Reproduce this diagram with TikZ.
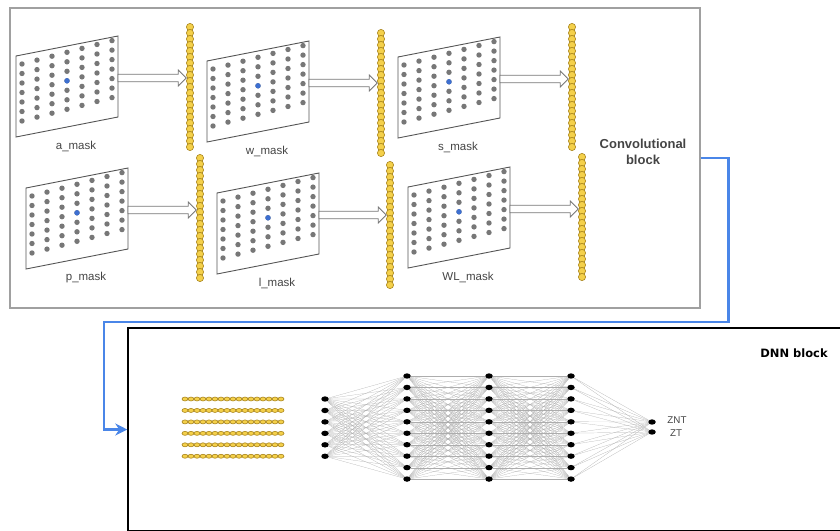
\documentclass[tikz,border=0pt]{standalone}
\usepackage{fontspec}
\setmainfont{Liberation Sans}
\newfontfamily\dnnfont{DejaVu Sans}
\usetikzlibrary{shapes.geometric,arrows.meta,calc}
\pgfdeclarelayer{background}
\pgfsetlayers{background,main}

\definecolor{panelgray}{HTML}{555555}
\definecolor{dotgray}{HTML}{777777}
\definecolor{dotblue}{HTML}{3D6FD0}
\definecolor{yfill}{HTML}{F4D04A}
\definecolor{yline}{HTML}{A8841C}
\definecolor{convgray}{HTML}{A0A0A0}
\definecolor{connblue}{HTML}{4A86E8}
\definecolor{txtgray}{HTML}{444444}
\definecolor{arrowgray}{HTML}{777777}

\tikzset{
  panel/.style={draw=panelgray, line width=0.9pt, fill=white},
  masklabel/.style={text=txtgray, font=\fontsize{11.5}{13}\selectfont, inner sep=0pt},
  harrow/.style={draw=arrowgray, fill=white, line width=0.8pt, line join=miter},
  ybead/.style={draw=yline, fill=yfill, line width=0.6pt},
  colbox/.style={rectangle, minimum width=7.2pt, minimum height=127.2pt, inner sep=0pt},
  convbox/.style={rectangle, draw=convgray, line width=1.3pt, minimum width=690pt, minimum height=300pt, inner sep=0pt},
  dnnbox/.style={rectangle, draw=black, line width=1.5pt, minimum width=732pt, minimum height=203pt, inner sep=0pt},
  conn/.style={draw=connblue, line width=2.8pt, -{Stealth[length=12pt,width=12pt,inset=4pt]}},
  nnode/.style={ellipse, fill=black, minimum width=7.5pt, minimum height=5.4pt, inner sep=0pt},
  nnedge/.style={draw=black!32, line width=0.2pt},
  convlabel/.style={text=txtgray, align=center, font=\bfseries\fontsize{13}{16}\selectfont, inner sep=0pt},
  dnnlabel/.style={text=black, font=\dnnfont\bfseries\fontsize{11.5}{13}\selectfont, inner sep=0pt},
  outlabel/.style={text=txtgray, font=\fontsize{9.8}{11}\selectfont, inner sep=0pt},
  maskpanel/.pic={
    \draw[panel] (0,0) -- (102,-20) -- (102,61) -- (0,81) -- cycle;
    \foreach \i in {0,...,6}{
      \foreach \j in {0,...,6}{
        \fill[dotgray] ({6+15*\i},{8+9.5*\j-3.9*\i}) circle[radius=2.7];
      }
    }
    \fill[dotblue] (51,24.8) circle[radius=2.7];
    \node[masklabel] at (60,90) {\tikzpictext};
    \coordinate (-out) at (102,22);
  }
}

\newcommand\ycolumn[3]{%
  \node[colbox] (#1) at (#2,{#3+60}) {};
  \foreach \k in {0,...,20}{
    \draw[ybead] (#2,{#3+6*\k}) circle[radius=3.6];
  }
}

\newcommand\hollowarrow[2]{%
  \draw[harrow] let \p1=(#1), \p2=(#2 |- #1) in
    (\x1,\y1+3.8pt) -- (\x2-8pt,\y1+3.8pt) -- (\x2-8pt,\y1+8pt) -- (\x2,\y1)
    -- (\x2-8pt,\y1-8pt) -- (\x2-8pt,\y1-3.8pt) -- (\x1,\y1-3.8pt) -- cycle;
}

\begin{document}
\begin{tikzpicture}[x=1pt,y=-1pt]
\useasboundingbox (0,0) rectangle (840,530);

% Convolutional block frame
\node[convbox] (conv) at (355,158) {};

% DNN block frame (extends past the page)
\begin{scope}
  \clip (0,0) rectangle (840,530);
  \node[dnnbox] (dnn) at (494,429.5) {};
\end{scope}

% mask panels
\pic[pic text=a\_mask]  (pa) at (16,56)   {maskpanel};
\pic[pic text=w\_mask]  (pw) at (207,61)  {maskpanel};
\pic[pic text=s\_mask]  (ps) at (398,57)  {maskpanel};
\pic[pic text=p\_mask]  (pp) at (26,188)  {maskpanel};
\pic[pic text=l\_mask]  (pl) at (217,193) {maskpanel};
\pic[pic text=WL\_mask] (pwl) at (408,187) {maskpanel};

% bead columns
\ycolumn{ca}{190}{27}
\ycolumn{cw}{381}{33}
\ycolumn{cs}{572}{27}
\ycolumn{cp}{200}{158}
\ycolumn{cl}{390}{165}
\ycolumn{cwl}{582}{157}

% hollow arrows
\hollowarrow{pa-out}{ca.west}
\hollowarrow{pw-out}{cw.west}
\hollowarrow{ps-out}{cs.west}
\hollowarrow{pp-out}{cp.west}
\hollowarrow{pl-out}{cl.west}
\hollowarrow{pwl-out}{cwl.west}

\node[convlabel] (convtxt) at (643,152) {Convolutional\\block};

% blue connector
\draw[conn] (conv.east) -- ++(28,0) |- (104,322) |- (dnn.west);

% DNN block contents
\node[dnnlabel] (dnntxt) at (794,353) {DNN block};

\foreach \r in {0,...,5}{
  \foreach \k in {0,...,16}{
    \draw[ybead] ({185+6*\k},{399+11.45*\r}) ellipse[x radius=3, y radius=2];
  }
}

\foreach \k in {1,...,6}{
  \node[nnode] (n1-\k) at (325,{399+11.45*(\k-1)}) {};
}
\foreach \L/\X in {2/407,3/489,4/571}{
  \foreach \k in {1,...,10}{
    \node[nnode] (n\L-\k) at (\X,{376+11.45*(\k-1)}) {};
  }
}
\node[nnode] (n5-1) at (652,422) {};
\node[nnode] (n5-2) at (652,432) {};

\begin{pgfonlayer}{background}
  \foreach \a in {1,...,6}{
    \foreach \b in {1,...,10}{
      \draw[nnedge] (n1-\a) -- (n2-\b);
    }
  }
  \foreach \a in {1,...,10}{
    \foreach \b in {1,...,10}{
      \draw[nnedge] (n2-\a) -- (n3-\b);
      \draw[nnedge] (n3-\a) -- (n4-\b);
    }
  }
  \foreach \a in {1,...,10}{
    \foreach \b in {1,2}{
      \draw[nnedge] (n4-\a) -- (n5-\b);
    }
  }
\end{pgfonlayer}

\node[outlabel] (znt) at (677,420) {ZNT};
\node[outlabel] (zt) at (676,433) {ZT};
\end{tikzpicture}
\end{document}
